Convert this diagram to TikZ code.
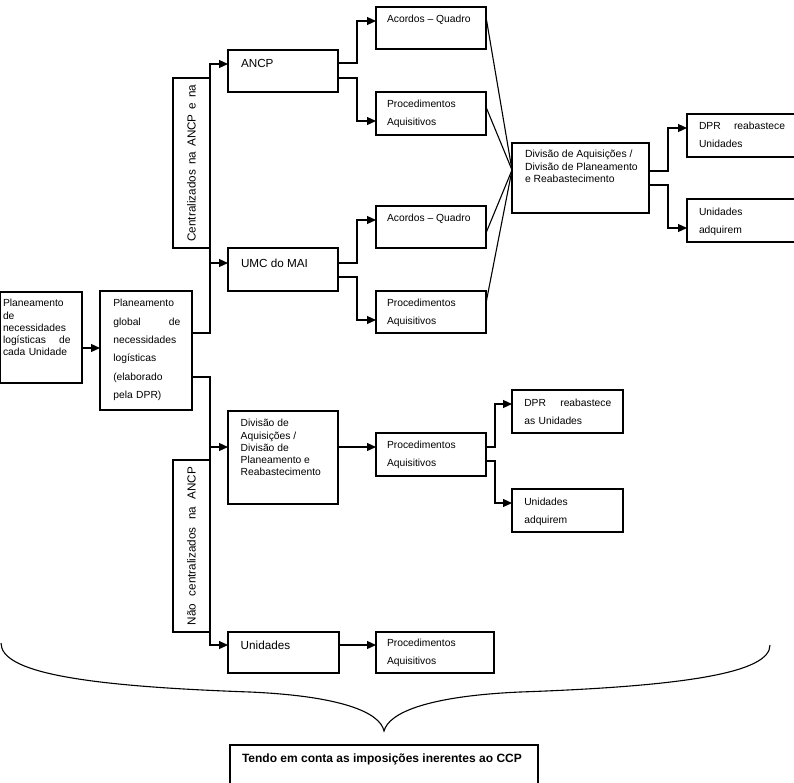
\documentclass[tikz,border=0pt]{standalone}
\usepackage{fontspec}
\setmainfont{Liberation Sans}
\usetikzlibrary{arrows.meta}
\newcommand\fsm{\fontsize{10.3}{18}\selectfont}
\newcommand\fsmb{\fontsize{10.3}{18.3}\selectfont}
\newcommand\fsmt{\fontsize{10.3}{12.2}\selectfont}
\newcommand\fmd{\fontsize{11.7}{14}\selectfont}
\begin{document}
\begin{tikzpicture}[x=1pt,y=-1pt,
  box/.style={draw, line width=1.1pt, inner sep=0pt, outer sep=0pt, anchor=north west},
  txt/.style={inner sep=0pt, outer sep=0pt, anchor=north west, align=left, font=\fsm},
  ln/.style={line width=1.1pt},
  arr/.style={line width=1.1pt, -{Triangle[length=9pt,width=8pt]}}]
\useasboundingbox (0,0) rectangle (794,782);

% first column
\node[box, minimum width=81.5pt, minimum height=91pt] (a) at (0.5,292) {};
\node[txt, font=\fsmt, text width=67.5pt] (ta) at (3,299.5)
  {Planeamento\\de\\necessidades\\logísticas\hfill de\\cada Unidade};
\node[box, minimum width=92pt, minimum height=119pt] (b) at (100,291) {};
\node[txt, font=\fsmb, text width=67pt] (tb) at (113.3,299.5)
  {Planeamento\\global\hfill de\\necessidades\\logísticas\\(elaborado\\pela DPR)};

% rotated labels
\node[box, minimum width=37pt, minimum height=170pt] (cbox) at (173,78) {};
\node[rotate=90, inner sep=0pt, font=\fmd] (clab) at (cbox.center)
  {\makebox[157pt][s]{Centralizados na ANCP e na}};
\node[box, minimum width=37pt, minimum height=172pt] (nbox) at (173,460) {};
\node[rotate=90, inner sep=0pt, font=\fmd] (nlab) at (nbox.center)
  {\makebox[158pt][s]{Não centralizados na ANCP}};

% second column
\node[box, minimum width=110pt, minimum height=42pt] (ancp) at (228,50) {};
\node[txt, font=\fmd] (tancp) at (241,59) {ANCP};
\node[box, minimum width=110pt, minimum height=43pt] (umc) at (228,248) {};
\node[txt, font=\fmd] (tumc) at (241,258.8) {UMC do MAI};
\node[box, minimum width=110pt, minimum height=93pt] (divl) at (228,411) {};
\node[txt, font=\fsmt] (tdivl) at (240.7,419.5)
  {Divisão de\\Aquisições /\\Divisão de\\Planeamento e\\Reabastecimento};
\node[box, minimum width=111pt, minimum height=41pt] (unid) at (228,632) {};
\node[txt, font=\fmd] (tunid) at (240.7,640.8) {Unidades};

% third column
\node[box, minimum width=110pt, minimum height=42pt] (acq1) at (376,7) {};
\node[txt] (tacq1) at (387,15.2) {Acordos – Quadro};
\node[box, minimum width=110pt, minimum height=43pt] (pro1) at (376,92) {};
\node[txt] (tpro1) at (387,100.2) {Procedimentos\\Aquisitivos};
\node[box, minimum width=110pt, minimum height=42pt] (acq2) at (376,206) {};
\node[txt] (tacq2) at (387,214.5) {Acordos – Quadro};
\node[box, minimum width=110pt, minimum height=42pt] (pro2) at (376,291) {};
\node[txt] (tpro2) at (387,299.5) {Procedimentos\\Aquisitivos};
\node[box, minimum width=110pt, minimum height=43pt] (prom) at (376,433) {};
\node[txt] (tprom) at (387,441.2) {Procedimentos\\Aquisitivos};
\node[box, minimum width=118pt, minimum height=41pt] (prob) at (376,632) {};
\node[txt] (tprob) at (387,639.5) {Procedimentos\\Aquisitivos};

% fourth column
\node[box, minimum width=137pt, minimum height=70pt] (divt) at (512,143) {};
\node[txt, font=\fontsize{10.4}{12.6}\selectfont] (tdivt) at (525,150.2)
  {Divisão de Aquisições /\\Divisão de Planeamento\\e Reabastecimento};
\node[box, minimum width=111pt, minimum height=43pt] (dprm) at (512,390) {};
\node[txt, text width=87pt] (tdprm) at (524.3,398.9) {DPR\hfill reabastece\\as Unidades};
\node[box, minimum width=111pt, minimum height=43pt] (unim) at (512,489) {};
\node[txt] (tunim) at (524.3,497.9) {Unidades\\adquirem};

% fifth column
\node[box, minimum width=113pt, minimum height=43pt] (dprr) at (687,114) {};
\node[txt, text width=86pt] (tdprr) at (699,122.2) {DPR\hfill reabastece\\Unidades};
\node[box, minimum width=113pt, minimum height=43pt] (unir) at (687,199) {};
\node[txt] (tunir) at (699,207.9) {Unidades\\adquirem};

% bottom
\node[box, minimum width=308pt, minimum height=50pt] (tendo) at (230,745) {};
\node[txt, font=\fontsize{12}{14}\selectfont\bfseries] (ttendo) at (242,754)
  {Tendo em conta as imposições inerentes ao CCP};

% connectors
\draw[arr] ([yshift=-56pt]a.north east) -- ([yshift=-57pt]b.north west);
\draw[arr] ([yshift=-42pt]b.north east) -- ++(18,0) |- ([yshift=-14pt]ancp.north west);
\draw[arr] ([yshift=-15pt]umc.north west) ++(-18,0) -- ([yshift=-15pt]umc.north west);
\draw[arr] ([yshift=-86pt]b.north east) -- ++(18,0) |- ([yshift=-13pt]unid.north west);
\draw[arr] ([yshift=-36pt]divl.north west) ++(-18,0) -- ([yshift=-36pt]divl.north west);

\draw[arr] ([yshift=-13pt]ancp.north east) -- ++(19,0) |- ([yshift=-14pt]acq1.north west);
\draw[arr] ([yshift=-28pt]ancp.north east) -- ++(19,0) |- ([yshift=-29pt]pro1.north west);
\draw[arr] ([yshift=-15pt]umc.north east) -- ++(19,0) |- ([yshift=-14pt]acq2.north west);
\draw[arr] ([yshift=-29pt]umc.north east) -- ++(19,0) |- ([yshift=-29pt]pro2.north west);
\draw[arr] ([yshift=-36pt]divl.north east) -- ([yshift=-14pt]prom.north west);
\draw[arr] ([yshift=-13pt]unid.north east) -- ([yshift=-13pt]prob.north west);

\draw[arr] ([yshift=-14pt]prom.north east) -- ++(9,0) |- ([yshift=-14pt]dprm.north west);
\draw[arr] ([yshift=-28pt]prom.north east) -- ++(9,0) |- ([yshift=-14pt]unim.north west);

\draw[ln] ([yshift=-10pt]acq1.north east) -- ([yshift=-27pt]divt.north west);
\draw[ln] ([yshift=-15pt]pro1.north east) -- ([yshift=-27pt]divt.north west);
\draw[ln] ([yshift=-27pt]acq2.north east) -- ([yshift=-27pt]divt.north west);
\draw[ln] ([yshift=-12pt]pro2.north east) -- ([yshift=-27pt]divt.north west);

\draw[arr] ([yshift=-28pt]divt.north east) -- ++(19,0) |- ([yshift=-14pt]dprr.north west);
\draw[arr] ([yshift=-42pt]divt.north east) -- ++(19,0) |- ([yshift=-29pt]unir.north west);

% brace
\draw[ln] (1,643) .. controls (1,672) and (80,686) .. (250,692)
  .. controls (340,696) and (380,712) .. (384,731)
  .. controls (389,712) and (430,696) .. (520,692)
  .. controls (690,686) and (770,672) .. (770,645);
\end{tikzpicture}
\end{document}
